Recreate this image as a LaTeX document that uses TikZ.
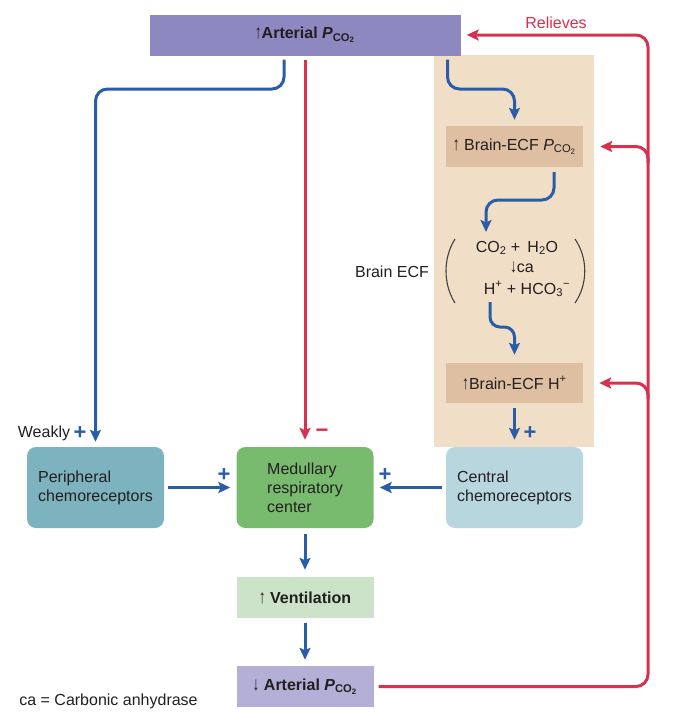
\documentclass[tikz,border=0pt]{standalone}
\usepackage{fontspec}
\setmainfont{Liberation Sans}
\usetikzlibrary{arrows.meta,calc}
\definecolor{purA}{HTML}{8D88BF}
\definecolor{purB}{HTML}{B3AFD7}
\definecolor{tanbg}{HTML}{F0DEC7}
\definecolor{brainbox}{HTML}{DFBFA1}
\definecolor{periphc}{HTML}{7DB3BF}
\definecolor{medulc}{HTML}{78BB6E}
\definecolor{centralc}{HTML}{B8D6DE}
\definecolor{ventc}{HTML}{CCE3C9}
\definecolor{myblue}{HTML}{2A5DA8}
\definecolor{myred}{HTML}{D8304F}
\definecolor{txt}{HTML}{231F20}
\newcommand{\myup}{\scalebox{0.85}[1.2]{↑}}
\newcommand{\mydown}{\scalebox{0.85}[1.2]{↓}}
\begin{document}
\begin{tikzpicture}[x=1pt,y=-1pt,
  every node/.style={font=\fontsize{16}{19}\selectfont, text=txt},
  box/.style={minimum width=137pt, minimum height=41pt, inner sep=0pt, align=center},
  rbox/.style={box, minimum height=81pt, rounded corners=9pt, align=left},
  arr/.style={line width=3pt, -{Stealth[length=12pt,width=11pt,inset=2.5pt]}},
  bl/.style={arr, draw=myblue},
  rd/.style={arr, draw=myred},
  sign/.style={font=\bfseries\fontsize{22}{22}\selectfont, inner sep=0pt},
  paren/.style={draw=txt!85, line width=1.1pt},
]
\useasboundingbox (0,0) rectangle (674,724);
\fill[white] (0,0) rectangle (674,724);

% background of brain ECF
\node[fill=tanbg, minimum width=160pt, minimum height=392pt, inner sep=0pt] (ecfbg) at (514,251) {};

% boxes
\node[box, fill=purA, minimum width=311pt] (artTop) at (305,35)
  {\bfseries \myup Arterial \textit{P}\textsubscript{CO\textsubscript{2}}};
\node[box, fill=brainbox] (pco2) at (514.5,146.5)
  {\myup\ Brain-ECF \textit{P}\textsubscript{CO\textsubscript{2}}};
\node[box, fill=brainbox, minimum height=40pt] (hplus) at (514.5,383)
  {\myup Brain-ECF H\textsuperscript{+}};
\node[rbox, fill=centralc] (central) at (514.5,487.5) {Central\\chemoreceptors};
\node[rbox, fill=periphc] (periph) at (95.5,487.5) {Peripheral\\chemoreceptors};
\node[rbox, fill=medulc] (medul) at (305,487.5) {Medullary\\respiratory\\center};
\node[box, fill=ventc] (vent) at (305,597.5) {\bfseries \myup\ Ventilation};
\node[box, fill=purB] (artBot) at (305,686.5)
  {\bfseries \mydown\ Arterial \textit{P}\textsubscript{CO\textsubscript{2}}};

% texts
\node[text=myred] (relieves) at (556,23) {Relieves};
\node (weakly) at (44,433) {Weakly};
\node (brainecf) at (392,272) {Brain ECF};
\node (note) at (108.5,701) {ca = Carbonic anhydrase};
\node (eq1) at (517,248) {CO\textsubscript{2} + \,H\textsubscript{2}O};
\node (eq2) at (522,267) {\mydown ca};
\node (eq3) at (527,289) {H\textsuperscript{+} + HCO\textsubscript{3}\textsuperscript{−}};
\draw[paren] (455,239) .. controls (443,258) and (443,284) .. (455,303);
\draw[paren] (575,239) .. controls (588,258) and (588,284) .. (575,303);

% signs
\node[sign, text=myblue] (plusW) at (80,433) {+};
\node[sign, text=myblue] (plusP) at (224,475) {+};
\node[sign, text=myblue] (plusC) at (385,475) {+};
\node[sign, text=myblue] (plusH) at (530,433) {+};
\node[sign, text=myred] (minusM) at (322,433) {−};

% coordinates
\coordinate (cP) at (95.5,89);
\coordinate (cB) at (514.5,89);
\coordinate (cE) at (486,200);
\coordinate (eqin) at (486,232);
\coordinate (eqout) at (490,302);
\coordinate (cH) at (514.5,327);
\coordinate (trunk) at (648,0);
\coordinate (b1) at (648,163);
\coordinate (b2) at (648,399);

% blue connectors
\draw[bl, rounded corners=12pt] ([xshift=-21pt,yshift=-4pt]artTop.south) |- (cP) -- ([yshift=5pt]periph.north);
\draw[bl, rounded corners=12pt] ([xshift=142.5pt,yshift=-4pt]artTop.south) |- (cB) -- ([yshift=6pt]pco2.north);
\draw[bl, rounded corners=12pt] ([xshift=39.5pt,yshift=-5pt]pco2.south) |- (cE) -- (eqin);
\draw[bl, rounded corners=10pt] (eqout) |- (cH) -- ([yshift=8pt]hplus.north);
\draw[bl] ([yshift=-5pt]hplus.south) -- ([yshift=7pt]central.north);
\draw[bl] ([xshift=-4pt]central.west) -- ([xshift=6pt]medul.east);
\draw[bl] ([xshift=4pt]periph.east) -- ([xshift=-6pt]medul.west);
\draw[bl] ([yshift=-6pt]medul.south) -- ([yshift=7pt]vent.north);
\draw[bl] ([yshift=-5pt]vent.south) -- ([yshift=6pt]artBot.north);

% red connectors
\draw[rd] ([yshift=-4pt]artTop.south) -- ([yshift=7pt]medul.north);
\draw[rd, rounded corners=12pt] ([xshift=5pt]artBot.east) -| (trunk |- artTop.east) -- ([xshift=6pt]artTop.east);
\draw[rd, rounded corners=12pt] (b1) |- ([xshift=17pt]pco2.east);
\draw[rd, rounded corners=12pt] (b2) |- ([xshift=16pt]hplus.east);
\end{tikzpicture}
\end{document}
